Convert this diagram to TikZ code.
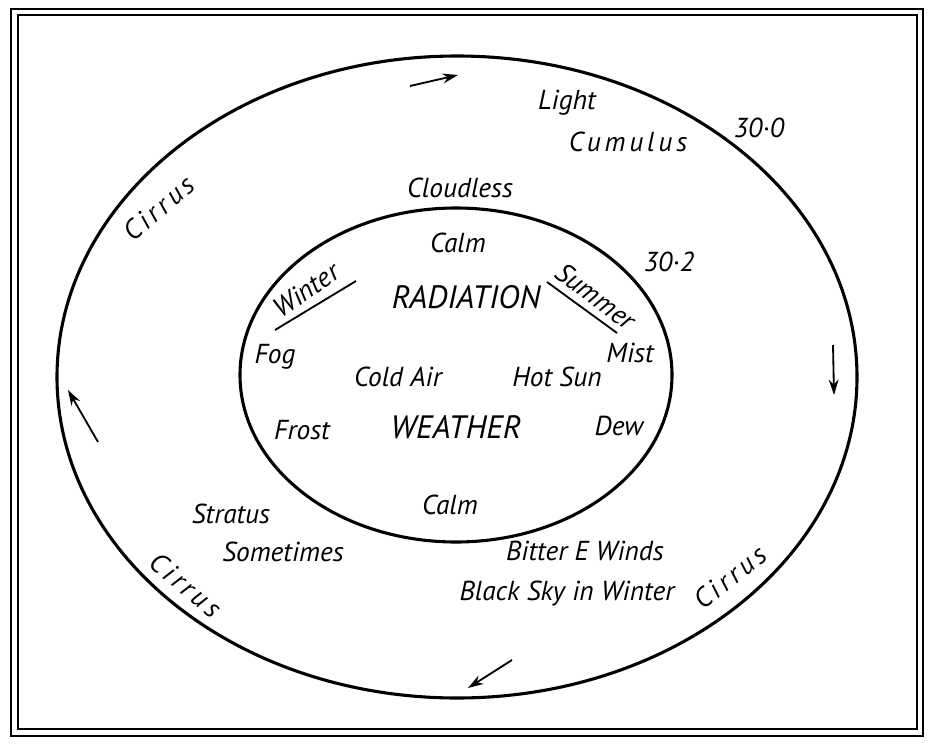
\documentclass[tikz,border=0pt]{standalone}
\usepackage{fontspec}
\setmainfont{PT Sans}
\newfontfamily\spaced[LetterSpace=14]{PT Sans}
\usetikzlibrary{arrows.meta}
\begin{document}
\begin{tikzpicture}[x=0.025cm,y=-0.025cm,
	lbl/.style={font=\itshape\fontsize{19.5}{21}\selectfont,inner sep=0pt},
	wide/.style={font=\spaced\itshape\fontsize{19.5}{21}\selectfont,inner sep=0pt},
	big/.style={font=\itshape\fontsize{23}{25}\selectfont,inner sep=0pt},
	ring/.style={line width=2.2pt},
	rule/.style={line width=1.3pt},
	flow/.style={line width=1.3pt,-{Stealth[length=11pt,width=7pt]}}]
	\useasboundingbox (0,0) rectangle (933,749);
	\draw[rule] (11,9) rectangle (923,736);
	\draw[rule] (18,15) rectangle (917,729);
	\draw[ring] (457,377) ellipse [x radius=400,y radius=321];
	\draw[ring] (456,375) ellipse [x radius=216,y radius=167];
	\node[lbl] (light) at (567,103) {Light};
	\node[wide] (cumulus) at (628,142) {Cumulus};
	\node[lbl] (p300) at (759,128) {30·0};
	\node[lbl] (cloudless) at (460,188) {Cloudless};
	\node[wide,rotate=41] (cirrusA) at (159,208) {Cirrus};
	\node[lbl] (calmtop) at (458,243) {Calm};
	\node[lbl] (p302) at (669,262) {30·2};
	\node[lbl,rotate=35] (winter) at (306,290) {Winter};
	\node[lbl,rotate=-37] (summer) at (596,296) {Summer};
	\node[big] (radiation) at (466,297) {RADIATION};
	\node[lbl] (fog) at (275,357) {Fog};
	\node[lbl] (mist) at (630,353) {Mist};
	\node[lbl] (coldair) at (398,377) {Cold Air};
	\node[lbl] (hotsun) at (557,377) {Hot Sun};
	\node[lbl] (frost) at (302,430) {Frost};
	\node[big] (weather) at (456,427) {WEATHER};
	\node[lbl] (dew) at (619,426) {Dew};
	\node[lbl] (calmbot) at (450,505) {Calm};
	\node[lbl] (stratus) at (231,514) {Stratus};
	\node[lbl] (sometimes) at (283,552) {Sometimes};
	\node[lbl] (bitter) at (585,551) {Bitter E Winds};
	\node[lbl] (blacksky) at (567,594) {Black Sky in Winter};
	\node[wide,rotate=-40] (cirrusB) at (186,585) {Cirrus};
	\node[wide,rotate=39] (cirrusC) at (730,577) {Cirrus};
	\coordinate (wa) at (275,330);
	\coordinate (wb) at (356,281);
	\coordinate (sa) at (547,282);
	\coordinate (sb) at (617,333);
	\draw[rule] (wa) -- (wb);
	\draw[rule] (sa) -- (sb);
	\coordinate (topa) at (410,86);
	\coordinate (topb) at (458,75);
	\coordinate (rta) at (833,345);
	\coordinate (rtb) at (834,395);
	\coordinate (bota) at (512,660);
	\coordinate (botb) at (468,688);
	\coordinate (lfa) at (98,442);
	\coordinate (lfb) at (68,390);
	\draw[flow] (topa) -- (topb);
	\draw[flow] (rta) -- (rtb);
	\draw[flow] (bota) -- (botb);
	\draw[flow] (lfa) -- (lfb);
\end{tikzpicture}
\end{document}
